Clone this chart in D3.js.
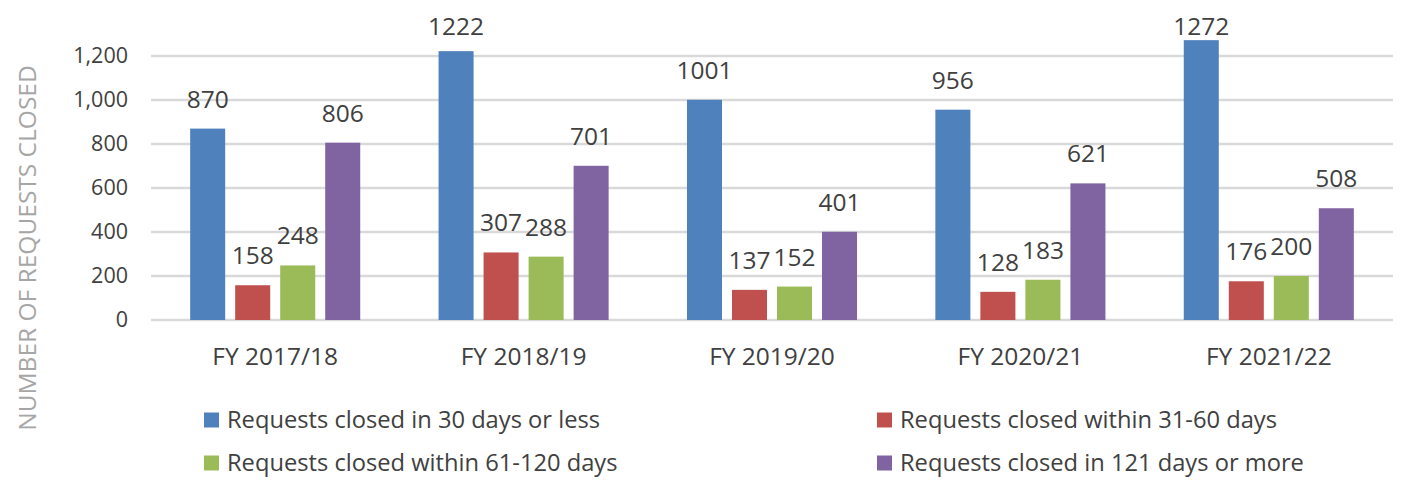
<!DOCTYPE html>
<html>
<head>
<meta charset="utf-8">
<script src="https://cdn.jsdelivr.net/npm/d3@7"></script>
<style>
  body { margin: 0; background: #fff; }
  svg text { font-family: "Open Sans", sans-serif; fill: #404040; }
</style>
</head>
<body>
<svg id="chart"></svg>
<script>
;(() => {

    const years = ['FY 2017/18', 'FY 2018/19', 'FY 2019/20', 'FY 2020/21', 'FY 2021/22'];
    const seriesNames = [
        'Requests closed in 30 days or less',
        'Requests closed within 31-60 days',
        'Requests closed within 61-120 days',
        'Requests closed in 121 days or more'
    ];
    const within30 = [870, 1222, 1001, 956, 1272];
    const within60 = [158, 307, 137, 128, 176];
    const within120 = [248, 288, 152, 183, 200];
    const over121 = [806, 701, 401, 621, 508];
    const yTicks = [0, 200, 400, 600, 800, 1000, 1200];
    const colors = ['#4f81bd', '#c0504d', '#9bbb59', '#8064a2'];

    const width = 1418, height = 494;
    const plot = { left: 151, right: 1393, top: 56, bottom: 320 };

    const svg = d3.select('#chart')
        .attr('width', width)
        .attr('height', height);

    const x = d3.scaleBand()
        .domain(years)
        .range([plot.left, plot.right]);

    // bars 35px wide with ~10px gaps inside each group
    const inner = d3.scaleBand()
        .domain(d3.range(seriesNames.length))
        .range([0, x.bandwidth()])
        .paddingInner(0.222)
        .paddingOuter(0.87);

    const y = d3.scaleLinear()
        .domain([0, 1200])
        .range([plot.bottom, plot.top]);

    // gridlines
    svg.append('g')
        .selectAll('line')
        .data(yTicks)
        .enter()
        .append('line')
        .attr('x1', plot.left)
        .attr('x2', plot.right)
        .attr('y1', d => y(d))
        .attr('y2', d => y(d))
        .attr('stroke', '#d9d9d9')
        .attr('stroke-width', 2.5);

    // y axis labels
    const yAxis = svg.append('g')
        .attr('transform', 'translate(' + (plot.left - 20) + ',0)')
        .call(d3.axisLeft(y).tickValues(yTicks).tickSize(0).tickFormat(d3.format(',')));
    yAxis.select('.domain').remove();
    yAxis.selectAll('text')
        .attr('font-size', 21.5)
        .attr('font-family', '"Open Sans", sans-serif')
        .attr('fill', '#404040');

    // x axis labels
    const xAxis = svg.append('g')
        .attr('transform', 'translate(0,' + plot.bottom + ')')
        .call(d3.axisBottom(x).tickSize(0));
    xAxis.select('.domain').remove();
    xAxis.selectAll('text')
        .attr('y', 45)
        .attr('dy', 0)
        .attr('font-size', 24.5)
        .attr('font-family', '"Open Sans", sans-serif')
        .attr('fill', '#404040');

    // y title
    svg.append('text')
        .attr('transform', 'translate(27,248) rotate(-90)')
        .attr('text-anchor', 'middle')
        .attr('dy', '0.35em')
        .attr('font-size', 24.5)
        .style('fill', '#a6a6a6')
        .text('NUMBER OF REQUESTS CLOSED');

    const series = [within30, within60, within120, over121];

    const groups = svg.append('g')
        .selectAll('g')
        .data(years)
        .enter()
        .append('g')
        .attr('transform', d => 'translate(' + x(d) + ',0)');

    groups.selectAll('rect')
        .data((d, i) => series.map((s, k) => ({ k: k, v: s[i] })))
        .enter()
        .append('rect')
        .attr('x', d => inner(d.k))
        .attr('width', inner.bandwidth())
        .attr('y', d => y(d.v))
        .attr('height', d => y(0) - y(d.v))
        .attr('fill', d => colors[d.k]);

    // value labels, pushed down when they would leave the top of the chart
    groups.selectAll('text.value')
        .data((d, i) => series.map((s, k) => ({ k: k, v: s[i] })))
        .enter()
        .append('text')
        .attr('class', 'value')
        .attr('x', d => inner(d.k) + inner.bandwidth() / 2)
        .attr('y', d => Math.max(y(d.v) - 21, 35))
        .attr('text-anchor', 'middle')
        .attr('font-size', 24.5)
        .text(d => d.v);

    // legend
    const legendPos = [[204, 420], [877, 420], [204, 463], [877, 463]];
    const legend = svg.append('g')
        .selectAll('g')
        .data(seriesNames)
        .enter()
        .append('g')
        .attr('transform', (d, i) => 'translate(' + legendPos[i][0] + ',' + legendPos[i][1] + ')');
    legend.append('rect')
        .attr('x', 0)
        .attr('y', -7.5)
        .attr('width', 15)
        .attr('height', 15)
        .attr('fill', (d, i) => colors[i]);
    legend.append('text')
        .attr('x', 23)
        .attr('y', 0)
        .attr('dy', '0.35em')
        .attr('font-size', 23.7)
        .text(d => d);

})();
</script>
</body>
</html>
